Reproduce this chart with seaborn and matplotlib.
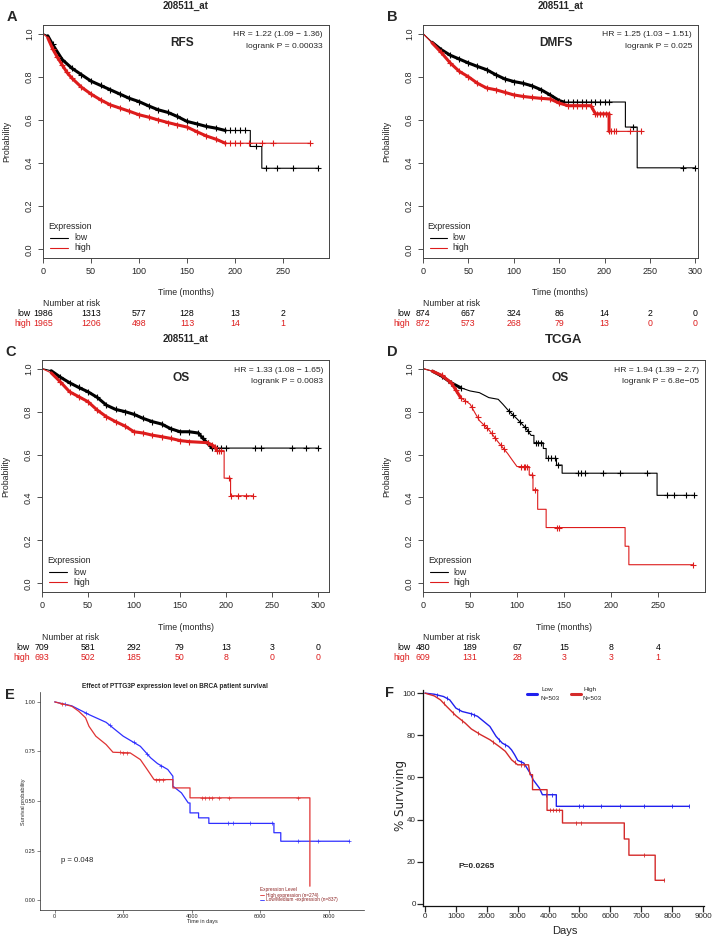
import numpy as np
import matplotlib
matplotlib.use("Agg")
import matplotlib.pyplot as plt
import matplotlib.transforms as mtransforms
import seaborn as sns

# ---------------- data ----------------
# A: RFS, 208511_at (months / probability)
a_low_t = [0, 5, 10, 20, 30, 40, 50, 60, 70, 80, 90, 100, 110, 120, 130, 140, 150, 160, 170, 180, 190, 216, 216, 228, 228, 287]
a_low_s = [1, 0.99, 0.95, 0.88, 0.84, 0.81, 0.78, 0.76, 0.74, 0.72, 0.70, 0.685, 0.665, 0.647, 0.635, 0.616, 0.593, 0.582,
           0.57, 0.562, 0.551, 0.551, 0.477, 0.477, 0.376, 0.376]
a_low_cens = [195, 200, 205, 210, 222, 232, 244, 260, 287]
a_high_t = [0, 5, 10, 15, 20, 25, 30, 40, 50, 60, 70, 80, 90, 100, 110, 120, 130, 140, 150, 160, 170, 180, 190, 278]
a_high_s = [1, 0.98, 0.93, 0.89, 0.855, 0.82, 0.794, 0.752, 0.72, 0.693, 0.67, 0.655, 0.64, 0.624, 0.613, 0.60, 0.588,
            0.577, 0.567, 0.546, 0.526, 0.511, 0.492, 0.492]
a_high_cens = [195, 200, 205, 215, 228, 240, 278]
risk_a_t = [0, 50, 100, 150, 200, 250]
risk_a_low = [1986, 1313, 577, 128, 13, 2]
risk_a_high = [1965, 1206, 498, 113, 14, 1]

# B: DMFS, 208511_at
b_low_t = [0, 10, 20, 30, 40, 50, 60, 70, 80, 90, 100, 110, 120, 130, 140, 150, 155, 223, 223, 236, 236, 300]
b_low_s = [1, 0.96, 0.926, 0.90, 0.882, 0.864, 0.848, 0.833, 0.81, 0.79, 0.778, 0.77, 0.758, 0.74, 0.716, 0.69, 0.683,
           0.683, 0.567, 0.567, 0.378, 0.378]
b_low_cens = [160, 165, 170, 175, 180, 185, 190, 195, 200, 205, 231, 287, 300]
b_high_t = [0, 10, 20, 30, 40, 50, 60, 70, 80, 90, 100, 110, 120, 130, 140, 150, 160, 185, 190, 205, 205, 240]
b_high_s = [1, 0.957, 0.913, 0.864, 0.825, 0.80, 0.77, 0.748, 0.74, 0.728, 0.716, 0.709, 0.704, 0.70, 0.697, 0.678, 0.666,
            0.666, 0.628, 0.628, 0.547, 0.547]
b_high_cens = [165, 170, 175, 180, 192, 195, 198, 202, 207, 210, 213, 228, 240]
risk_b_t = [0, 50, 100, 150, 200, 250, 300]
risk_b_low = [874, 667, 324, 86, 14, 2, 0]
risk_b_high = [872, 573, 268, 79, 13, 0, 0]

# C: OS, 208511_at
c_low_t = [0, 10, 20, 30, 40, 50, 60, 70, 80, 90, 100, 110, 120, 130, 140, 150, 160, 170, 175, 180, 185, 300]
c_low_s = [1, 0.99, 0.96, 0.934, 0.912, 0.892, 0.866, 0.83, 0.81, 0.80, 0.787, 0.768, 0.753, 0.742, 0.72, 0.706, 0.706,
           0.70, 0.675, 0.652, 0.63, 0.63]
c_low_cens = [188, 190, 195, 200, 232, 238, 272, 287, 300]
c_high_t = [0, 10, 20, 30, 40, 50, 60, 70, 80, 90, 100, 110, 120, 130, 140, 150, 160, 180, 188, 190, 198, 198, 205, 205, 229]
c_high_s = [1, 0.98, 0.938, 0.892, 0.869, 0.846, 0.807, 0.776, 0.753, 0.733, 0.706, 0.70, 0.69, 0.683, 0.675, 0.665, 0.66,
            0.655, 0.637, 0.618, 0.618, 0.49, 0.49, 0.408, 0.408]
c_high_cens = [185, 192, 195, 203, 206, 213, 222, 229]
risk_c_t = [0, 50, 100, 150, 200, 250, 300]
risk_c_low = [709, 581, 292, 79, 13, 3, 0]
risk_c_high = [693, 502, 185, 50, 8, 0, 0]

# D: OS, TCGA
d_low_t = [0, 10, 20, 30, 40, 50, 60, 70, 80, 85, 90, 100, 105, 110, 115, 118, 118, 128, 128, 131, 131, 142, 142, 148,
           148, 249, 249, 288]
d_low_s = [1, 0.988, 0.965, 0.934, 0.911, 0.896, 0.888, 0.865, 0.857, 0.834, 0.809, 0.766, 0.743, 0.72, 0.689, 0.689,
           0.655, 0.655, 0.628, 0.628, 0.582, 0.582, 0.551, 0.551, 0.513, 0.513, 0.41, 0.41]
d_low_cens = [92, 96, 103, 108, 112, 120, 122, 125, 133, 136, 140, 144, 165, 168, 172, 191, 210, 238, 260, 267, 280, 288]
d_high_t = [0, 10, 20, 30, 35, 40, 50, 55, 60, 70, 80, 90, 95, 100, 113, 113, 117, 117, 122, 122, 131, 131, 215, 215,
            219, 219, 287]
d_high_s = [1, 0.988, 0.968, 0.934, 0.90, 0.865, 0.835, 0.796, 0.758, 0.715, 0.658, 0.605, 0.574, 0.544, 0.544, 0.505,
            0.505, 0.436, 0.436, 0.345, 0.345, 0.26, 0.26, 0.173, 0.173, 0.087, 0.087]
d_high_cens = [45, 52, 58, 65, 68, 73, 77, 83, 86, 104, 107, 109, 111, 116, 119, 143, 145, 287]
risk_d_t = [0, 50, 100, 150, 200, 250]
risk_d_low = [480, 189, 67, 15, 8, 4]
risk_d_high = [609, 131, 28, 3, 3, 1]

# E: PTTG3P in BRCA (days / probability)
e_low_t = [0, 500, 1000, 1500, 2000, 2500, 2800, 3000, 3300, 3450, 3450, 3700, 3900, 3950, 3950, 4200, 4200, 4500, 4500,
           6400, 6400, 6600, 6600, 8600]
e_low_s = [1, 0.98, 0.936, 0.897, 0.827, 0.776, 0.718, 0.689, 0.659, 0.625, 0.575, 0.541, 0.49, 0.49, 0.44, 0.44, 0.415,
           0.415, 0.387, 0.387, 0.34, 0.34, 0.297, 0.297]
e_low_cens = [300, 900, 1600, 2300, 2700, 3100, 5050, 5200, 5700, 6350, 7100, 7700, 8600]
e_high_t = [0, 500, 700, 900, 1000, 1200, 1500, 1700, 2200, 2500, 2700, 2900, 3450, 3450, 3950, 3950, 7450, 7450]
e_high_s = [1, 0.978, 0.953, 0.92, 0.877, 0.827, 0.785, 0.746, 0.743, 0.709, 0.659, 0.608, 0.608, 0.566, 0.566, 0.516,
            0.516, 0.07]
e_high_cens = [200, 1900, 2000, 2100, 2950, 3050, 3150, 4300, 4400, 4500, 4600, 4800, 5100, 7100]

# F: % surviving (days)
f_low_t = [0, 300, 600, 800, 1000, 1200, 1500, 1700, 1900, 2100, 2300, 2500, 2700, 2800, 2900, 3000, 3200, 3400, 3500,
           3700, 3800, 4250, 4250, 8550]
f_low_s = [100, 99.5, 98.4, 96.8, 92.9, 91.3, 90.2, 89, 86.6, 84.2, 79.5, 76.3, 74.7, 73.1, 70.8, 68.1, 66.8, 62.1, 58.9,
           55, 51.8, 51.8, 46.3, 46.3]
f_low_cens = [400, 700, 1100, 1500, 1600, 2400, 2600, 3100, 3900, 4100, 5000, 5100, 5700, 6300, 7100, 8000, 8550]
f_high_t = [0, 300, 500, 700, 1000, 1300, 1500, 1800, 2100, 2400, 2600, 2800, 3000, 3350, 3400, 3480, 3480, 3950, 3950,
            4450, 4450, 6450, 6450, 6600, 6600, 7450, 7450, 7750]
f_high_s = [100, 98.7, 96.8, 93.7, 89.3, 85.8, 83.0, 80.3, 77.9, 74.7, 72.4, 68.4, 66.0, 66.0, 61.3, 61.3, 54.2, 54.2,
            44.4, 44.4, 38.4, 38.4, 30.8, 30.8, 23.1, 23.1, 11.2, 11.2]
f_high_cens = [600, 900, 1200, 1700, 2200, 2900, 3100, 3200, 4050, 4150, 4250, 4350, 4900, 5050, 7100, 7750]

# ---------------- style ----------------
sns.set_style("white")
plt.rcParams["font.family"] = ["Liberation Sans", "DejaVu Sans"]
plt.rcParams["axes.unicode_minus"] = True

RED = "#dd1c1c"
BLACK = "#000000"
W, H = 715, 940
fig = plt.figure(figsize=(W / 100, H / 100), dpi=100)


def add_ax(x0, y0, x1, y1):
    return fig.add_axes([x0 / W, 1 - y1 / H, (x1 - x0) / W, (y1 - y0) / H])


def ftext(x, y, s, **kw):
    kw.setdefault("ha", "center")
    kw.setdefault("va", "center")
    fig.text(x / W, 1 - y / H, s, **kw)


def fig_line(x0, x1, y, color, lw):
    fig.lines.append(plt.Line2D([x0 / W, x1 / W], [1 - y / H, 1 - y / H], color=color, lw=lw,
                                transform=fig.transFigure))


def km_curve(ax, t, s, color, cens, band=None, lw=0.8, band_lw=2.2, marker="+", ms=4, mew=0.8):
    t = np.asarray(t, float)
    s = np.asarray(s, float)
    sns.lineplot(x=t, y=s, ax=ax, color=color, linewidth=lw, estimator=None, sort=False)
    if band is not None:
        m = (t >= band[0]) & (t <= band[1])
        sns.lineplot(x=t[m], y=s[m], ax=ax, color=color, linewidth=band_lw, estimator=None, sort=False)
        ax.plot(t[m][1:], s[m][1:], linestyle="none", marker=marker, ms=ms, mew=mew, color=color)
    cens = np.asarray(cens, float)
    ax.plot(cens, np.interp(cens, t, s), linestyle="none", marker=marker, ms=ms, mew=mew, color=color)


def km_panel(box, letter, title, title_big, endpoint, hr, p, xmax, xticks,
             low, high, risk_t, risk_low, risk_high, title_y):
    x0, y0, x1, y1 = box
    ax = add_ax(x0, y0, x1, y1)
    km_curve(ax, *low)
    km_curve(ax, *high)
    ax.set_xlim(0, xmax)
    ax.set_ylim(-0.04, 1.04)
    ax.set_xticks(xticks)
    ax.set_yticks([0, 0.2, 0.4, 0.6, 0.8, 1.0])
    ax.set_yticklabels(["0.0", "0.2", "0.4", "0.6", "0.8", "1.0"])
    ax.tick_params(axis="both", direction="out", length=3.5, width=0.6, labelsize=6.5, pad=3,
                   bottom=True, left=True, color="#333333")
    ax.tick_params(axis="y", labelrotation=90)
    for lab in ax.get_yticklabels():
        lab.set_va("center")
    for sp in ax.spines.values():
        sp.set_visible(True)
        sp.set_color("#444444")
        sp.set_linewidth(0.7)
    ax.set_xlabel("")
    ax.set_ylabel("")
    # legend drawn in axes coords
    ax.text(0.017, 0.137, "Expression", transform=ax.transAxes, fontsize=6.3, ha="left", va="center")
    ax.plot([0.025, 0.088], [0.086, 0.086], transform=ax.transAxes, color=BLACK, lw=0.8)
    ax.plot([0.025, 0.088], [0.043, 0.043], transform=ax.transAxes, color=RED, lw=0.8)
    ax.text(0.108, 0.086, "low", transform=ax.transAxes, fontsize=6.3, ha="left", va="center")
    ax.text(0.108, 0.043, "high", transform=ax.transAxes, fontsize=6.3, ha="left", va="center")
    # texts
    ftext(x1 - 6, y0 + 10, hr, ha="right", fontsize=6.1)
    ftext(x1 - 6, y0 + 21.5, p, ha="right", fontsize=6.1)
    ftext(x0 + 0.485 * (x1 - x0), y0 + 18, endpoint, fontsize=8.6, fontweight="bold")
    ftext((x0 + x1) / 2, title_y, title, fontsize=9.5 if title_big else 7, fontweight="bold")
    ftext(x0 - 31, y0 - 8, letter, fontsize=10.5, fontweight="bold")
    ftext(x0 - 36, (y0 + y1) / 2, "Probability", rotation=90, fontsize=6.3)
    ftext((x0 + x1) / 2, y1 + 35, "Time (months)", fontsize=6.3)
    ftext(x0, y1 + 45, "Number at risk", ha="left", fontsize=6.3)
    tr = mtransforms.blended_transform_factory(ax.transData, fig.transFigure)
    for lab, vals, col, dy in (("low", risk_low, BLACK, 55), ("high", risk_high, RED, 65)):
        ftext(x0 - 12.5, y1 + dy, lab, ha="right", fontsize=6.3, color=col)
        for tt, v in zip(risk_t, vals):
            ax.text(tt, 1 - (y1 + dy) / H, str(v), transform=tr, ha="center", va="center",
                    fontsize=6.3, color=col)
    return ax


# A
km_panel((43, 25, 329, 258), "A", "208511_at", False, "RFS",
         "HR = 1.22 (1.09 \u2212 1.36)", "logrank P = 0.00033", 298, [0, 50, 100, 150, 200, 250],
         (a_low_t, a_low_s, BLACK, a_low_cens, (4, 215)),
         (a_high_t, a_high_s, RED, a_high_cens, (4, 200)),
         risk_a_t, risk_a_low, risk_a_high, 6)
# B
km_panel((423, 25, 698, 258), "B", "208511_at", False, "DMFS",
         "HR = 1.25 (1.03 \u2212 1.51)", "logrank P = 0.025", 303, [0, 50, 100, 150, 200, 250, 300],
         (b_low_t, b_low_s, BLACK, b_low_cens, (4, 210)),
         (b_high_t, b_high_s, RED, b_high_cens, (4, 205)),
         risk_b_t, risk_b_low, risk_b_high, 6)
# C
km_panel((42, 360, 329, 592), "C", "208511_at", False, "OS",
         "HR = 1.33 (1.08 \u2212 1.65)", "logrank P = 0.0083", 312, [0, 50, 100, 150, 200, 250, 300],
         (c_low_t, c_low_s, BLACK, c_low_cens, (4, 186)),
         (c_high_t, c_high_s, RED, c_high_cens, (4, 190)),
         risk_c_t, risk_c_low, risk_c_high, 339)
# D
km_panel((423, 360, 705, 592), "D", "TCGA", True, "OS",
         "HR = 1.94 (1.39 \u2212 2.7)", "logrank P = 6.8e\u221205", 300, [0, 50, 100, 150, 200, 250],
         (d_low_t, d_low_s, BLACK, d_low_cens, (2, 40)),
         (d_high_t, d_high_s, RED, d_high_cens, (2, 40)),
         risk_d_t, risk_d_low, risk_d_high, 340)

# E
E_RED = "#e03333"
E_BLUE = "#2f2fff"
axe = add_ax(40, 692, 364, 910)
km_curve(axe, e_low_t, e_low_s, E_BLUE, e_low_cens, lw=0.9, marker="+", ms=2.5, mew=0.5)
km_curve(axe, e_high_t, e_high_s, E_RED, e_high_cens, lw=0.9, marker="+", ms=2.5, mew=0.5)
axe.set_xlim(-430, 9030)
axe.set_ylim(-0.05, 1.05)
axe.set_xticks([0, 2000, 4000, 6000, 8000])
axe.set_yticks([0, 0.25, 0.5, 0.75, 1.0])
axe.set_yticklabels(["0.00", "0.25", "0.50", "0.75", "1.00"])
axe.tick_params(axis="both", direction="out", length=2, width=0.4, labelsize=4, pad=1,
                bottom=True, left=True)
sns.despine(ax=axe)
for side in ("left", "bottom"):
    axe.spines[side].set_linewidth(0.5)
    axe.spines[side].set_color("#222222")
axe.set_xlabel("")
axe.set_ylabel("")
ftext(175, 687, "Effect of PTTG3P expression level on BRCA patient survival", fontsize=4.7, fontweight="bold")
ftext(10, 695, "E", fontsize=10.5, fontweight="bold")
ftext(202, 921, "Time in days", fontsize=4)
ftext(24, 802, "Survival probability", rotation=90, fontsize=4)
ftext(61, 861, "p = 0.048", ha="left", fontsize=5.6)
MAROON = "#8a2020"
ftext(260, 890, "Expression Level", ha="left", fontsize=3.4, color=MAROON)
fig_line(260, 264, 895, E_RED, 0.6)
fig_line(260, 264, 900, E_BLUE, 0.6)
ftext(265.5, 895, "High expression (n=274)", ha="left", fontsize=3.4, color=MAROON)
ftext(265.5, 900, "Low/Medium -expression (n=837)", ha="left", fontsize=3.4, color=MAROON)

# F
F_BLUE = "#2020ee"
F_RED = "#d42a2a"
axf = add_ax(423, 690, 704, 906)
km_curve(axf, f_low_t, f_low_s, F_BLUE, f_low_cens, lw=1.0, marker="|", ms=3, mew=0.6)
km_curve(axf, f_high_t, f_high_s, F_RED, f_high_cens, lw=1.0, marker="|", ms=3, mew=0.6)
axf.set_xlim(-65, 9030)
axf.set_ylim(-1, 101.5)
axf.set_xticks([0, 1000, 2000, 3000, 4000, 5000, 6000, 7000, 8000, 9000])
axf.set_yticks([0, 20, 40, 60, 80, 100])
axf.tick_params(axis="both", direction="out", length=4, width=0.9, labelsize=5.8, pad=1.2,
                bottom=True, left=True)
sns.despine(ax=axf)
for side in ("left", "bottom"):
    axf.spines[side].set_linewidth(0.9)
    axf.spines[side].set_color("#111111")
axf.set_xlabel("")
axf.set_ylabel("")
ftext(390, 693, "F", fontsize=10.5, fontweight="bold")
ftext(400, 795, "% Surviving", rotation=90, fontsize=8.6, family=["DejaVu Sans"])
ftext(565, 931, "Days", fontsize=8)
ftext(477, 867, "P=0.0265", fontsize=6, fontweight="bold")
fig_line(527, 537, 694, F_BLUE, 2.2)
fig_line(571, 581, 694, F_RED, 2.2)
ftext(547, 689.5, "Low", fontsize=4.6)
ftext(550, 698, "N=503", fontsize=4.6)
ftext(590, 689.5, "High", fontsize=4.6)
ftext(592, 698, "N=503", fontsize=4.6)

fig.savefig("out.png", dpi=100, facecolor="white")
